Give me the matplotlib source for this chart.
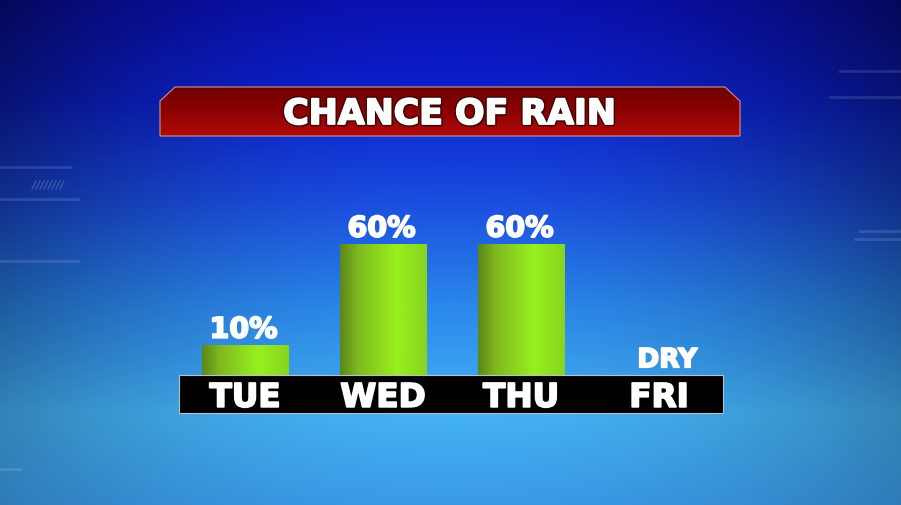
"""
Chance of rain — broadcast-style bar graphic.
"""

import matplotlib
matplotlib.use("Agg")
import matplotlib.pyplot as plt
import matplotlib.patheffects as pe
from matplotlib.colors import to_rgb
from matplotlib.patches import Polygon, Rectangle
import numpy as np

TITLE        = "CHANCE OF RAIN"
DAYS         = ["TUE", "WED", "THU", "FRI"]
RAIN_CHANCE  = [10, 60, 60, 0]
VALUE_LABELS = ["10%", "60%", "60%", "DRY"]

W, H = 901, 506
FONT = "DejaVu Sans"
HEAVY = [pe.withStroke(linewidth=1.3, foreground="white")]


def ramp(stops, n):
    """Linear colour ramp from (pos, hex) stops -> (n, 3) array."""
    t = np.linspace(0, 1, n)
    pos = [p for p, _ in stops]
    cols = np.array([to_rgb(c) for _, c in stops])
    return np.stack([np.interp(t, pos, cols[:, i]) for i in range(3)], axis=-1)


fig = plt.figure(figsize=(W / 100, H / 100), dpi=100)

# ---- background (pixel coordinates) ----
bg = fig.add_axes([0, 0, 1, 1])
bg.set_xlim(0, W)
bg.set_ylim(H, 0)
bg.axis("off")

col = ramp([(0.0, "#0a10b0"), (0.2, "#0c22d0"), (0.4, "#1a4ee0"),
            (0.6, "#2a86ea"), (0.82, "#44b2f4"), (1.0, "#3a9ae6")], H)
t = np.linspace(0, 1, H)[:, None]
xx = np.linspace(-1, 1, W)[None, :]
shade = 1 - 0.5 * xx ** 2 * (1 - 0.6 * t)
img = col[:, None, :] * shade[..., None]
bg.imshow(np.clip(img, 0, 1), extent=(0, W, H, 0), aspect="auto", zorder=0)

# faint decorative lines
for x0, x1, y in [(0, 70, 168), (0, 78, 200), (0, 78, 262), (840, 901, 72),
                  (830, 901, 98), (860, 901, 232), (855, 901, 240), (0, 20, 470)]:
    bg.plot([x0, x1], [y, y], color="white", alpha=0.12, lw=2, zorder=1)
for k in range(8):
    bg.plot([32 + 4 * k, 36 + 4 * k], [190, 182], color="white", alpha=0.18, lw=1, zorder=1)

# ---- title banner ----
banner = Polygon([(160, 137), (160, 102), (175, 88), (725, 88), (740, 102), (740, 137)],
                 closed=True, facecolor="none", edgecolor="#d09090", lw=0.8, zorder=3)
bg.add_patch(banner)
grad = ramp([(0, "#6e0000"), (0.5, "#8c0202"), (1, "#b20a0a")], 60)
gi = bg.imshow(grad[:, None, :], extent=(160, 740, 137, 88), aspect="auto", zorder=2)
gi.set_clip_path(banner)
bg.text(450, 115, TITLE, color="white", fontsize=25, fontweight="bold",
        family=FONT, ha="center", va="center", zorder=4,
        path_effects=[pe.withSimplePatchShadow(offset=(1.5, -1.5), shadow_rgbFace="#2a0000", alpha=0.8),
                      pe.withStroke(linewidth=3.2, foreground="#3a0505"),
                      pe.withStroke(linewidth=1.3, foreground="white")])

# ---- data axes ----
PX_PER = 2.02          # pixels per percent
ZERO_PX = 366.2
YMIN, YMAX = -30, 100
left_px, right_px = 176, 728
bot_px = ZERO_PX - YMIN * PX_PER
top_px = ZERO_PX - YMAX * PX_PER
ax = fig.add_axes([left_px / W, (H - bot_px) / H,
                   (right_px - left_px) / W, (bot_px - top_px) / H])
ax.set_xlim(-0.5, 3.5)
ax.set_ylim(YMIN, YMAX)
ax.axis("off")
ax.patch.set_alpha(0)

x = np.arange(len(DAYS))
base = -6
bar_w = 0.625
bar_grad = ramp([(0, "#5d861a"), (0.2, "#7eb820"), (0.65, "#98f01e"), (1, "#88d41e")], 80)
for xi, v in zip(x, RAIN_CHANCE):
    if v <= 0:
        continue
    b = ax.bar(xi, v - base, bottom=base, width=bar_w, color="#8fe01e",
               edgecolor="#8c9c80", linewidth=0.7, zorder=3)[0]
    im = ax.imshow(bar_grad[None, :, :], extent=(xi - bar_w / 2, xi + bar_w / 2, base, v),
                   aspect="auto", zorder=3.5)
    im.set_clip_path(b)

for xi, v, lab in zip(x, RAIN_CHANCE, VALUE_LABELS):
    if v > 0:
        ax.text(xi - 0.01, v + 3.6, lab, color="white", fontsize=20.5, fontweight="bold",
                family=FONT, ha="center", va="baseline", zorder=6, path_effects=HEAVY)
    else:
        ax.text(xi + 0.06, -1, lab, color="white", fontsize=19, fontweight="bold",
                family=FONT, ha="center", va="baseline", zorder=6, path_effects=HEAVY)

# black day strip over the bar bases
ax.add_patch(Rectangle((-0.478, -23.8), 3.942, 18.85, facecolor="black",
                       edgecolor="#b8c0c8", linewidth=0.8, zorder=5, clip_on=False))
for xi, d in zip(x, DAYS):
    ax.text(xi, -20.6, d, color="white", fontsize=23.5, fontweight="bold",
            family=FONT, ha="center", va="baseline", zorder=6, path_effects=HEAVY)

fig.savefig("out.png", dpi=100)
